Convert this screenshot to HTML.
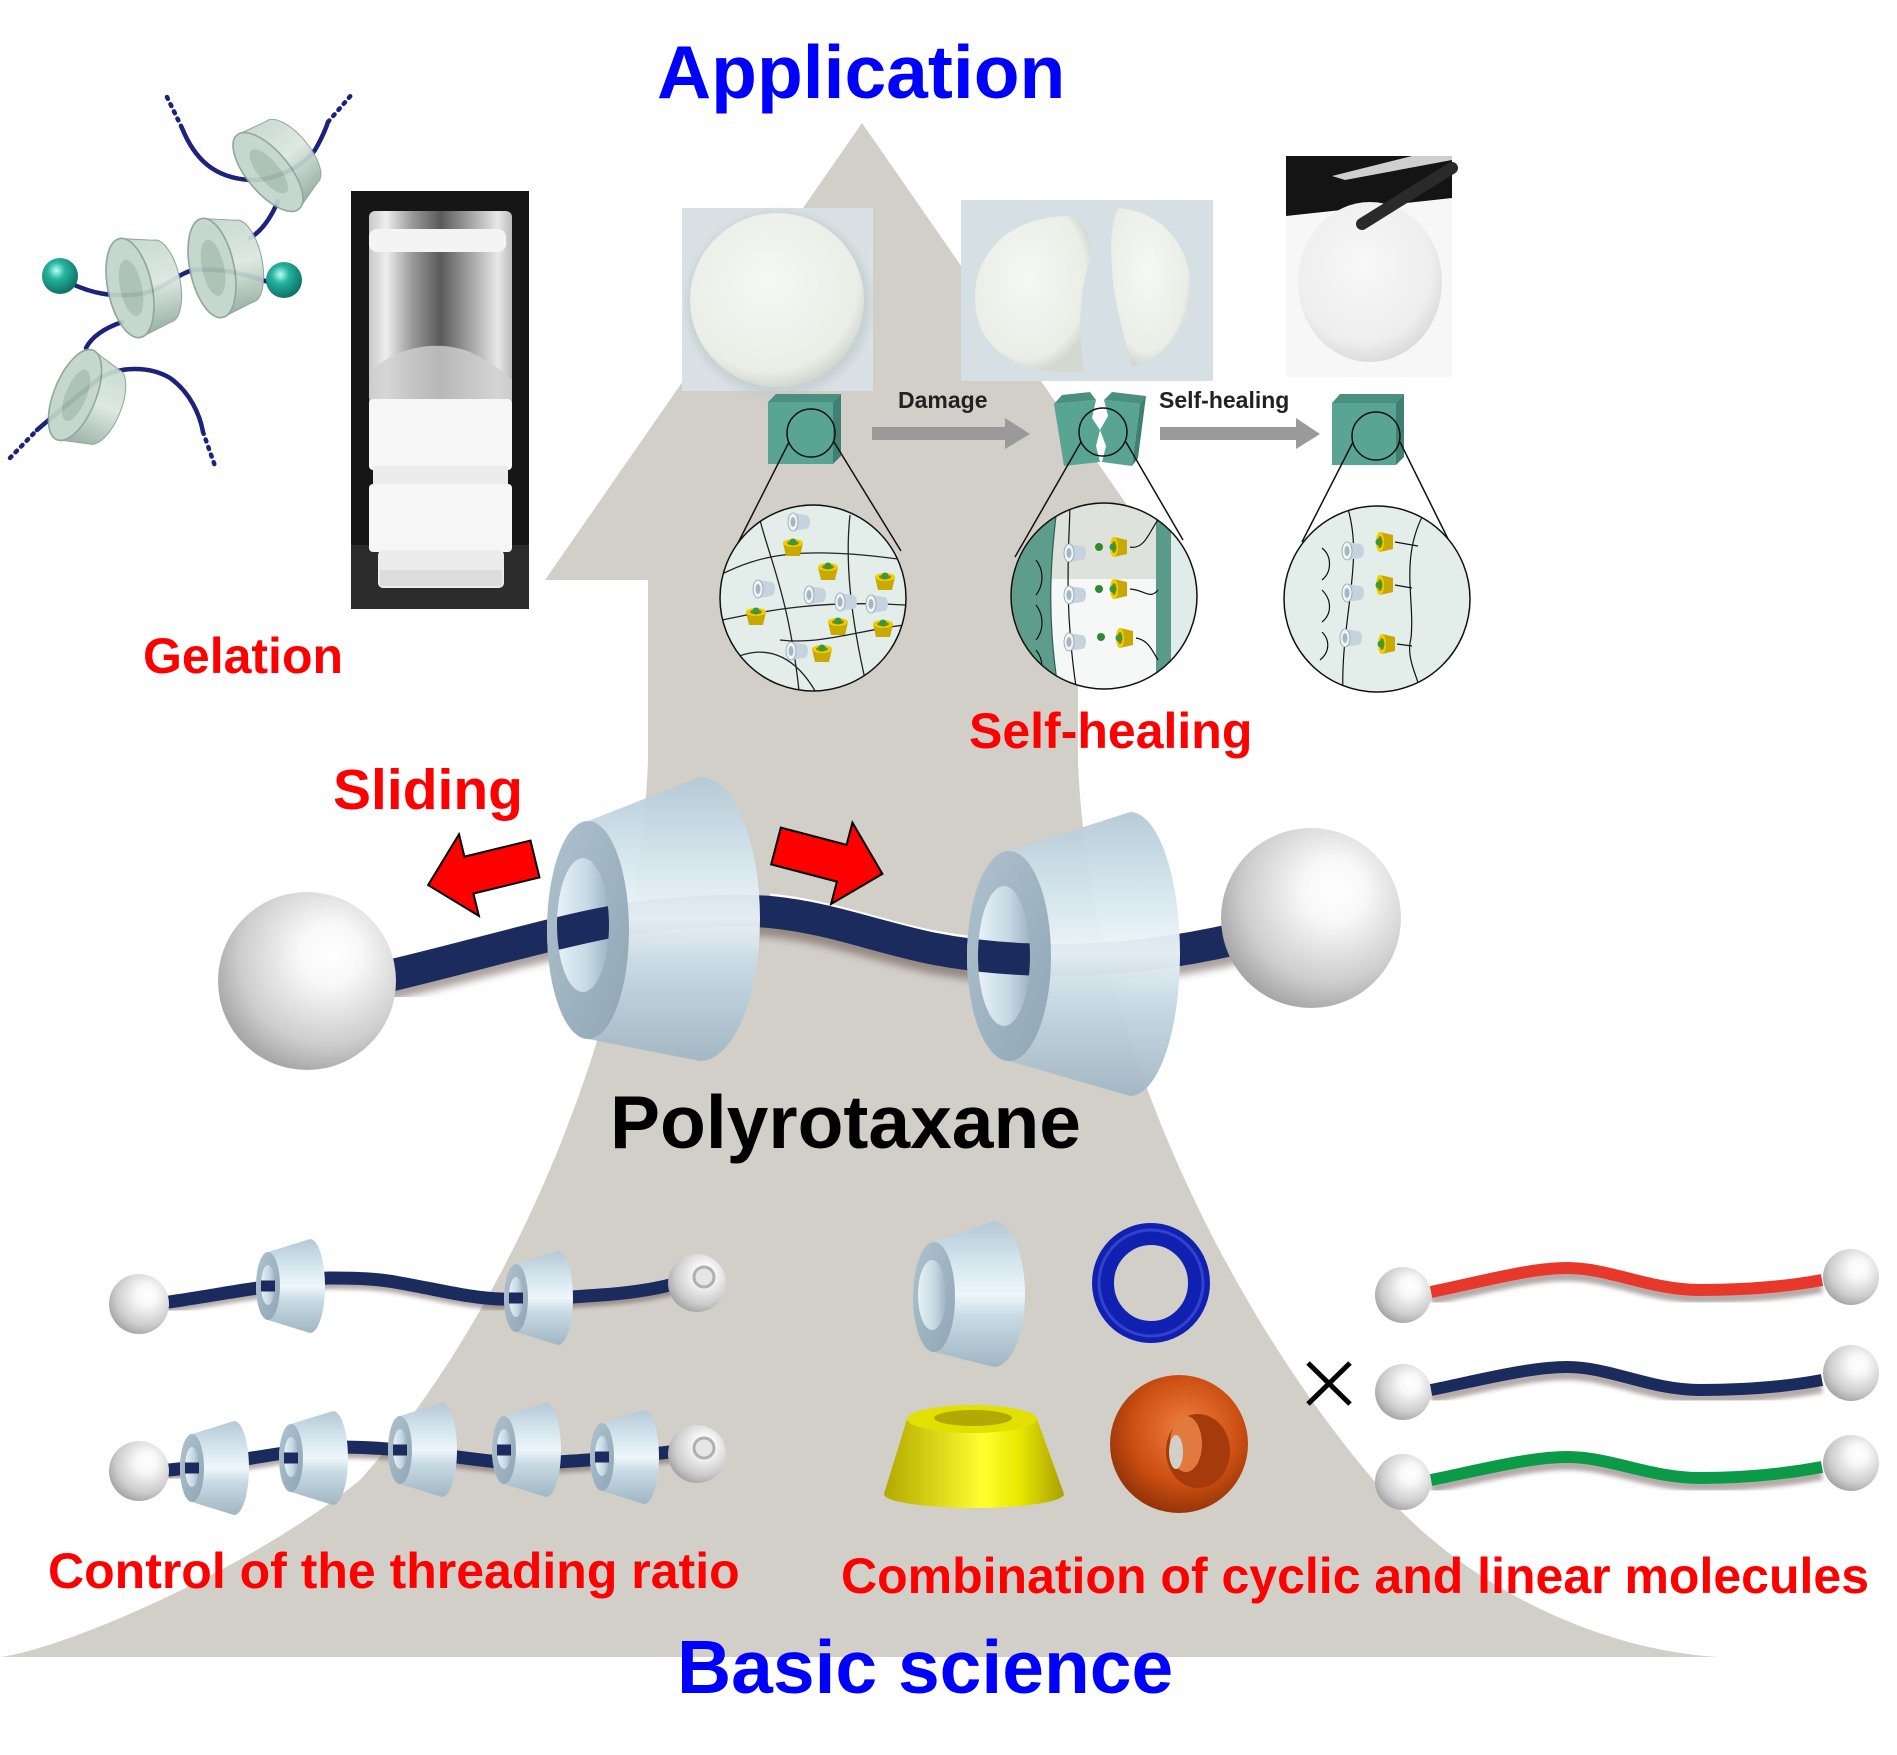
<!DOCTYPE html>
<html><head><meta charset="utf-8"><style>
html,body{margin:0;padding:0;background:#fff;}
svg{display:block;}
text{font-family:"Liberation Sans",Arial,sans-serif;font-weight:bold;}
</style></head><body>
<svg width="1897" height="1755" viewBox="0 0 1897 1755" xmlns="http://www.w3.org/2000/svg">
<defs>
<radialGradient id="sph" cx="0.6" cy="0.38" r="0.7" fx="0.64" fy="0.34">
<stop offset="0" stop-color="#ffffff"/><stop offset="0.25" stop-color="#f8f8f8"/><stop offset="0.7" stop-color="#cdcdcd"/><stop offset="1" stop-color="#9a9a9a"/></radialGradient>
<linearGradient id="rb" x1="0" y1="0" x2="0" y2="1">
<stop offset="0" stop-color="#b4c9d6"/><stop offset="0.3" stop-color="#d6e7ef"/><stop offset="0.5" stop-color="#eef6fa"/><stop offset="0.65" stop-color="#c8dbe5"/><stop offset="1" stop-color="#a1b6c4"/></linearGradient>
<linearGradient id="rf" x1="0" y1="0" x2="1" y2="1">
<stop offset="0" stop-color="#aec2ce"/><stop offset="1" stop-color="#90a6b5"/></linearGradient>
<linearGradient id="rh" x1="0" y1="0" x2="1" y2="0">
<stop offset="0" stop-color="#e8f2f7"/><stop offset="0.6" stop-color="#c4d8e3"/><stop offset="1" stop-color="#9eb4c2"/></linearGradient>
<linearGradient id="gb" x1="0" y1="0" x2="0" y2="1">
<stop offset="0" stop-color="#c4d7cb"/><stop offset="0.5" stop-color="#dbe8e0"/><stop offset="1" stop-color="#8fa99b"/></linearGradient>
<radialGradient id="teal" cx="0.4" cy="0.35" r="0.7">
<stop offset="0" stop-color="#b8fff0"/><stop offset="0.35" stop-color="#25b3a0"/><stop offset="1" stop-color="#0a6a5e"/></radialGradient>
<linearGradient id="yel" x1="0" y1="0" x2="1" y2="0">
<stop offset="0" stop-color="#b2a800"/><stop offset="0.55" stop-color="#ffff30"/><stop offset="0.75" stop-color="#e8e800"/><stop offset="1" stop-color="#a8a000"/></linearGradient>
<radialGradient id="org" cx="0.55" cy="0.4" r="0.65">
<stop offset="0" stop-color="#f08040"/><stop offset="0.6" stop-color="#cc4f12"/><stop offset="1" stop-color="#8a2e06"/></radialGradient>
<linearGradient id="glass" x1="0" y1="0" x2="1" y2="0">
<stop offset="0" stop-color="#c8c8c8"/><stop offset="0.12" stop-color="#eeeeee"/><stop offset="0.3" stop-color="#9a9a9a"/><stop offset="0.5" stop-color="#5a5a5a"/><stop offset="0.7" stop-color="#a0a0a0"/><stop offset="0.9" stop-color="#e8e8e8"/><stop offset="1" stop-color="#bbbbbb"/></linearGradient>
<radialGradient id="gel" cx="0.45" cy="0.4" r="0.6">
<stop offset="0" stop-color="#f6f8f4"/><stop offset="0.85" stop-color="#eaeee6"/><stop offset="1" stop-color="#d3d9d0"/></radialGradient>
<radialGradient id="gel3" cx="0.45" cy="0.4" r="0.6">
<stop offset="0" stop-color="#f8f8f8"/><stop offset="0.8" stop-color="#eeeeee"/><stop offset="1" stop-color="#dcdcdc"/></radialGradient>
<filter id="bl"><feGaussianBlur stdDeviation="4"/></filter>
<filter id="bl2"><feGaussianBlur stdDeviation="2"/></filter>
<clipPath id="c1"><circle cx="813" cy="598" r="93"/></clipPath>
<clipPath id="c2"><circle cx="1104" cy="596" r="93"/></clipPath>
<clipPath id="c3"><circle cx="1377" cy="599" r="93"/></clipPath>
<clipPath id="h1"><ellipse cx="583" cy="925" rx="26" ry="67"/></clipPath>
<clipPath id="h2"><ellipse cx="1004" cy="956" rx="26" ry="70"/></clipPath>
<g id="sr">
<path d="M0 -34 L42 -47 A15 47 0 0 1 42 47 L0 34 A12 34 0 0 1 0 -34 Z" fill="url(#rb)"/>
<ellipse rx="12" ry="34" fill="url(#rf)"/>
<ellipse cx="0" cy="-1" rx="7" ry="20" fill="url(#rh)"/>
<line x1="-7" y1="0" x2="7" y2="0" stroke="#1b2b5e" stroke-width="11"/>
</g>
<g id="gr">
<path d="M0 -46 L30 -38 A16 38 0 0 1 30 38 L0 46 A20 46 0 0 1 0 -46 Z" fill="url(#gb)" stroke="#8aa496" stroke-width="1"/>
<ellipse rx="20" ry="46" fill="#c2d5ca" stroke="#88a294" stroke-width="1.5"/>
<ellipse cx="1" rx="10" ry="26" fill="#a2bbad" opacity="0.85"/>
</g>
<g id="wr">
<path d="M-6 -9 L7 -7 A4 7 0 0 1 7 7 L-6 9 A5 9 0 0 1 -6 -9Z" fill="#c4d3dd"/>
<ellipse cx="-6" rx="5" ry="9" fill="#eef3f6" stroke="#8fa0ac" stroke-width=".8"/>
<ellipse cx="-6" rx="2.5" ry="5" fill="#a6b6c1"/>
</g>
<g id="yc">
<path d="M-10 -4 L10 -4 L7 9 L-7 9Z" fill="#c9a800"/>
<ellipse cy="-4" rx="10" ry="4" fill="#ead000"/>
<ellipse cy="-4" rx="6" ry="2.3" fill="#9a7f00"/>
<circle cy="-5" r="3.5" fill="#3a9a3a"/>
</g>
</defs>
<rect width="1897" height="1755" fill="#fff"/>

<!-- big gray arrow -->
<path d="M862 123 L1179 580 L1078 580 L1078 760 C1088 1050 1250 1350 1403 1513 C1480 1590 1600 1650 1718 1657 L0 1657 C60 1650 250 1570 360 1480 C520 1300 640 1000 648 760 L648 580 L545 580 Z" fill="#d2cfc8"/>

<!-- Gelation molecule -->
<g fill="none" stroke="#1c237a" stroke-width="4.5" stroke-linecap="round">
<path d="M167 97 L182 128" stroke-dasharray="2 6"/>
<path d="M182 128 C195 160 215 178 250 180 C270 181 300 170 315 150 C322 138 326 128 328 122"/>
<path d="M328 122 L353 93" stroke-dasharray="2 6"/>
<path d="M278 201 C270 220 260 232 250 238"/>
<path d="M72 284 C90 292 110 298 140 294 C165 290 178 272 195 270 C215 268 240 272 268 282"/>
<path d="M122 322 C105 328 92 336 86 348"/>
<path d="M10 458 L37 430" stroke-dasharray="2 6"/>
<path d="M37 430 C60 410 85 390 100 378 C120 366 150 366 170 378 C190 392 200 415 203 432"/>
<path d="M203 432 L215 466" stroke-dasharray="2 6"/>
</g>
<g opacity="0.93">
<use href="#gr" transform="translate(268 172) rotate(-40) scale(1.05)"/>
<use href="#gr" transform="translate(212 268) rotate(-12) scale(1.1)"/>
<use href="#gr" transform="translate(130 288) rotate(-12) scale(1.1)"/>
<use href="#gr" transform="translate(75 395) rotate(22) scale(1.05)"/>
</g>
<circle cx="60" cy="276" r="18" fill="url(#teal)"/>
<circle cx="284" cy="280" r="18" fill="url(#teal)"/>

<!-- vial photo -->
<rect x="351" y="191" width="178" height="418" fill="#161616"/>
<rect x="351" y="545" width="178" height="64" fill="#2c2c2c"/>
<rect x="369" y="211" width="143" height="192" rx="6" fill="url(#glass)"/>
<rect x="369" y="229" width="137" height="23" rx="8" fill="#f4f4f4"/>
<path d="M372 370 C400 345 440 340 470 352 C490 362 505 372 512 380 L512 403 L369 403 Z" fill="#d0d0d0" opacity="0.8"/>
<rect x="369" y="399" width="143" height="71" rx="4" fill="#f6f6f6"/>
<rect x="373" y="466" width="135" height="22" fill="#ececec"/>
<rect x="369" y="484" width="143" height="68" rx="4" fill="#f6f6f6"/>
<rect x="378" y="550" width="126" height="38" rx="5" fill="#ececec"/>
<rect x="380" y="570" width="122" height="16" fill="#dcdcdc"/>

<!-- photo 1 -->
<rect x="682" y="208" width="191" height="183" fill="#d9e1e4"/>
<circle cx="779" cy="304" r="92" fill="#bcc6c8" opacity="0.6" filter="url(#bl)"/>
<circle cx="777" cy="300" r="87" fill="url(#gel)"/>
<!-- photo 2 -->
<rect x="961" y="200" width="252" height="181" fill="#d6dfe3"/>
<path d="M1070 216 C1012 216 975 250 975 298 C975 348 1015 376 1084 372 C1080 340 1076 300 1090 260 C1092 240 1088 225 1070 216 Z" fill="url(#gel)"/>
<path d="M1118 208 C1165 212 1192 250 1190 290 C1188 330 1160 362 1132 366 C1122 330 1114 300 1112 270 C1110 240 1112 220 1118 208 Z" fill="url(#gel)"/>
<!-- photo 3 -->
<rect x="1286" y="156" width="166" height="221" fill="#f7f7f7"/>
<path d="M1286 156 H1452 V198 L1286 216 Z" fill="#141414"/>
<path d="M1332 176 L1412 156 L1452 156 L1452 160 L1345 180 Z" fill="#cfcfcf"/>
<ellipse cx="1370" cy="282" rx="72" ry="80" fill="url(#gel3)"/>
<path d="M1452 168 L1362 224" stroke="#2a2a2a" stroke-width="12" stroke-linecap="round"/>

<!-- cubes -->
<g stroke="none">
<polygon points="768,402 776,394 841,394 833,402" fill="#4a8f80"/>
<polygon points="833,402 841,394 841,456 833,464" fill="#3e8072"/>
<rect x="768" y="402" width="65" height="62" fill="#5aa494"/>
<polygon points="1054,404 1062,395 1090,392 1096,400" fill="#4a8f80"/>
<polygon points="1054,404 1096,400 1092,418 1100,430 1096,446 1100,462 1064,466" fill="#5aa494"/>
<polygon points="1104,400 1112,392 1146,396 1140,404" fill="#4a8f80"/>
<polygon points="1104,400 1140,404 1132,466 1102,462 1106,446 1100,430 1108,416" fill="#5aa494"/>
<polygon points="1140,404 1146,396 1138,458 1132,466" fill="#3e8072"/>
<polygon points="1332,403 1340,394 1404,394 1396,403" fill="#4a8f80"/>
<polygon points="1396,403 1404,394 1404,457 1396,465" fill="#3e8072"/>
<rect x="1332" y="403" width="64" height="62" fill="#5aa494"/>
</g>
<g fill="none" stroke="#111" stroke-width="1.5">
<circle cx="811" cy="433" r="24"/><circle cx="1103" cy="432" r="24"/><circle cx="1376" cy="436" r="24"/>
<line x1="789" y1="442" x2="736" y2="547"/><line x1="834" y1="442" x2="901" y2="551"/>
<line x1="1081" y1="442" x2="1015" y2="557"/><line x1="1126" y1="442" x2="1183" y2="540"/>
<line x1="1353" y1="442" x2="1302" y2="542"/><line x1="1400" y1="442" x2="1453" y2="549"/>
</g>

<!-- Damage / Self-healing arrows -->
<polygon points="872,427 1005,427 1005,418 1030,434 1005,449 1005,440 872,440" fill="#9a9a9a"/>
<polygon points="1160,427 1296,427 1296,418 1320,434 1296,449 1296,440 1160,440" fill="#9a9a9a"/>
<text x="898" y="408" font-size="23" fill="#222">Damage</text>
<text x="1159" y="408" font-size="23" fill="#222">Self-healing</text>

<!-- circle 1 -->
<g clip-path="url(#c1)">
<circle cx="813" cy="598" r="93" fill="#e3eeea"/>
<g fill="none" stroke="#222" stroke-width="1.3">
<path d="M720 575 C760 555 800 545 905 560"/>
<path d="M722 620 C770 610 820 600 905 605"/>
<path d="M730 660 C770 640 800 660 820 700"/>
<path d="M760 520 C770 560 790 600 800 700"/>
<path d="M850 515 C845 560 850 620 870 700"/>
<path d="M780 640 C820 645 860 630 905 625"/>
</g>
<use href="#wr" x="799" y="522"/><use href="#wr" x="764" y="589"/><use href="#wr" x="815" y="595"/>
<use href="#wr" x="846" y="602"/><use href="#wr" x="877" y="604"/><use href="#wr" x="797" y="651"/>
<use href="#yc" x="793" y="547"/><use href="#yc" x="828" y="571"/><use href="#yc" x="756" y="616"/>
<use href="#yc" x="885" y="581"/><use href="#yc" x="838" y="626"/><use href="#yc" x="883" y="628"/><use href="#yc" x="822" y="653"/>
</g>
<circle cx="813" cy="598" r="93" fill="none" stroke="#111" stroke-width="1.5"/>
<!-- circle 2 -->
<g clip-path="url(#c2)">
<circle cx="1104" cy="596" r="93" fill="#f6f8f7"/>
<rect x="1050" y="500" width="110" height="79" fill="#dde2dc"/>
<path d="M1000 500 L1058 500 C1050 560 1046 620 1060 700 L1000 700 Z" fill="#5e9d8b" stroke="#2f5f52" stroke-width="1.2"/>
<rect x="1156" y="500" width="15" height="200" fill="#5a9a88"/>
<rect x="1171" y="500" width="40" height="200" fill="#e0ece8"/>
<g fill="none" stroke="#111" stroke-width="1.2">
<path d="M1070 500 C1070 540 1062 600 1078 700"/>
<path d="M1130 547 C1145 550 1150 530 1158 520"/>
<path d="M1130 589 C1145 590 1150 600 1158 590"/>
<path d="M1136 638 C1148 640 1152 650 1158 660"/>
<path d="M1036 560 C1044 570 1044 585 1036 595"/>
<path d="M1036 605 C1044 615 1044 630 1036 640"/>
<path d="M1036 650 C1044 660 1044 672 1034 680"/>
</g>
<use href="#wr" x="1075" y="553"/><use href="#wr" x="1075" y="595"/><use href="#wr" x="1075" y="642"/>
<circle cx="1099" cy="547" r="4" fill="#2f8a2f"/><circle cx="1099" cy="589" r="4" fill="#2f8a2f"/><circle cx="1101" cy="637" r="4" fill="#2f8a2f"/>
<use href="#yc" transform="translate(1118 547) rotate(-90)"/><use href="#yc" transform="translate(1118 589) rotate(-90)"/><use href="#yc" transform="translate(1124 638) rotate(-90)"/>
</g>
<circle cx="1104" cy="596" r="93" fill="none" stroke="#111" stroke-width="1.5"/>
<!-- circle 3 -->
<g clip-path="url(#c3)">
<circle cx="1377" cy="599" r="93" fill="#e3eeea"/>
<g fill="none" stroke="#111" stroke-width="1.2">
<path d="M1347 506 C1365 560 1340 620 1343 695"/>
<path d="M1423 515 C1400 560 1415 600 1411 638 C1405 660 1420 680 1421 695"/>
<path d="M1395 542 L1418 546"/><path d="M1395 585 L1412 588"/><path d="M1397 644 L1412 646"/>
<path d="M1322 548 C1332 556 1332 572 1322 580"/>
<path d="M1322 590 C1332 600 1332 614 1322 622"/>
<path d="M1322 632 C1330 640 1330 652 1320 660"/>
</g>
<use href="#wr" x="1353" y="551"/><use href="#wr" x="1353" y="593"/><use href="#wr" x="1351" y="638"/>
<use href="#yc" transform="translate(1384 542) rotate(-90)"/><use href="#yc" transform="translate(1384 585) rotate(-90)"/><use href="#yc" transform="translate(1386 644) rotate(-90)"/>
</g>
<circle cx="1377" cy="599" r="93" fill="none" stroke="#111" stroke-width="1.5"/>

<!-- labels -->
<text x="657" y="98" font-size="75" fill="#0000ff">Application</text>
<text x="143" y="673" font-size="50" fill="#ff0000">Gelation</text>
<text x="969" y="748" font-size="50" fill="#ff0000">Self-healing</text>
<text x="333" y="809" font-size="57" fill="#ff0000">Sliding</text>

<!-- big polyrotaxane chain -->
<path d="M380 990 C450 974 540 948 600 936 C650 926 720 920 770 924 C830 930 870 947 930 960 C970 968 1010 972 1060 972 C1120 972 1180 964 1240 950" fill="none" stroke="#5a4540" stroke-width="26" opacity="0.5" filter="url(#bl)"/>
<path d="M770 896 C830 902 870 919 930 932 C970 940 1010 944 1060 944" fill="none" stroke="#fff" stroke-width="5"/>
<path id="bigchain" d="M380 978 C450 962 540 936 600 924 C650 914 720 908 770 912 C830 918 870 935 930 948 C970 956 1010 960 1060 960 C1120 960 1180 952 1240 938" fill="none" stroke="#1b2b5e" stroke-width="32"/>
<circle cx="307" cy="981" r="89" fill="url(#sph)"/>
<circle cx="1311" cy="918" r="90" fill="url(#sph)"/>
<!-- ring 1 -->
<path d="M588 821 L700 777 A60 142 0 0 1 700 1061 L588 1039 A41 109 0 0 1 588 821 Z" fill="url(#rb)" opacity="0.95"/>
<ellipse cx="588" cy="930" rx="41" ry="109" fill="url(#rf)"/>
<ellipse cx="583" cy="925" rx="26" ry="67" fill="url(#rh)"/>
<g clip-path="url(#h1)"><use href="#bigchain"/></g>
<!-- ring 2 -->
<path d="M1009 851 L1130 812 A50 142 0 0 1 1130 1096 L1009 1061 A42 105 0 0 1 1009 851 Z" fill="url(#rb)" opacity="0.95"/>
<ellipse cx="1009" cy="956" rx="42" ry="105" fill="url(#rf)"/>
<ellipse cx="1004" cy="956" rx="26" ry="70" fill="url(#rh)"/>
<g clip-path="url(#h2)"><use href="#bigchain"/></g>
<!-- red arrows -->
<polygon points="0,-19 68,-19 68,-42 110,0 68,42 68,19 0,19" fill="#ff0000" stroke="#000" stroke-width="2" transform="translate(535 859) rotate(166.3)"/>
<polygon points="0,-19 68,-19 68,-42 110,0 68,42 68,19 0,19" fill="#ff0000" stroke="#000" stroke-width="2" transform="translate(776 846) rotate(14.7)"/>

<text x="610" y="1148" font-size="75" fill="#000">Polyrotaxane</text>

<!-- threading rows -->
<g fill="none" stroke-linecap="round">
<path d="M169 1302 C210 1296 240 1290 266 1287 C290 1284 310 1278 330 1278 C360 1278 380 1279 400 1283 C440 1290 470 1298 500 1299 C540 1300 570 1297 600 1295 C630 1293 650 1290 670 1285" stroke="#5a4540" stroke-width="10" opacity="0.45" filter="url(#bl2)" transform="translate(0 6)"/>
<path d="M169 1302 C210 1296 240 1290 266 1287 C290 1284 310 1278 330 1278 C360 1278 380 1279 400 1283 C440 1290 470 1298 500 1299 C540 1300 570 1297 600 1295 C630 1293 650 1290 670 1285" stroke="#1b2b5e" stroke-width="13"/>
<path d="M169 1470 C200 1467 250 1458 290 1452 C320 1447 345 1445 400 1450 C440 1454 480 1461 520 1464 C560 1462 600 1460 670 1452" stroke="#5a4540" stroke-width="10" opacity="0.45" filter="url(#bl2)" transform="translate(0 6)"/>
<path d="M169 1470 C200 1467 250 1458 290 1452 C320 1447 345 1445 400 1450 C440 1454 480 1461 520 1464 C560 1462 600 1460 670 1452" stroke="#1b2b5e" stroke-width="13"/>
</g>
<use href="#sr" x="268" y="1286"/><use href="#sr" x="516" y="1298"/>
<use href="#sr" x="192" y="1468"/><use href="#sr" x="291" y="1458"/><use href="#sr" x="400" y="1450"/><use href="#sr" x="504" y="1450"/><use href="#sr" x="602" y="1457"/>
<circle cx="139" cy="1304" r="30" fill="url(#sph)"/>
<circle cx="139" cy="1471" r="30" fill="url(#sph)"/>
<circle cx="697" cy="1283" r="29" fill="url(#sph)"/>
<circle cx="704" cy="1277" r="10" fill="#e6e6e6" stroke="#b0b0b0" stroke-width="3"/>
<circle cx="697" cy="1454" r="29" fill="url(#sph)"/>
<circle cx="704" cy="1448" r="10" fill="#e6e6e6" stroke="#b0b0b0" stroke-width="3"/>

<!-- center molecules -->
<path d="M934 1242 L994 1221 A31 73 0 0 1 994 1367 L934 1352 A21 55 0 0 1 934 1242 Z" fill="url(#rb)"/>
<ellipse cx="934" cy="1297" rx="21" ry="55" fill="url(#rf)"/>
<ellipse cx="932" cy="1295" rx="14" ry="35" fill="url(#rh)"/>
<ellipse cx="1151" cy="1283" rx="48" ry="49" fill="none" stroke="#1020b0" stroke-width="22"/>
<ellipse cx="1151" cy="1283" rx="52" ry="53" fill="none" stroke="#4a5ae0" stroke-width="3" opacity="0.6"/>
<path d="M907 1419 L884 1494 A90 14 0 0 0 1064 1494 L1037 1419 Z" fill="url(#yel)"/>
<ellipse cx="972" cy="1419" rx="65" ry="14" fill="#e2e000"/>
<ellipse cx="973" cy="1418" rx="39" ry="8" fill="#b2aa00"/>
<circle cx="1179" cy="1444" r="69" fill="url(#org)"/>
<ellipse cx="1198" cy="1451" rx="32" ry="37" fill="#a53a0a"/>
<ellipse cx="1186" cy="1444" rx="16" ry="28" fill="#e27a40"/>
<ellipse cx="1176" cy="1452" rx="7" ry="17" fill="#d2cfc8"/>
<g stroke="#000" stroke-width="5"><line x1="1308" y1="1363" x2="1350" y2="1404"/><line x1="1350" y1="1363" x2="1308" y2="1404"/></g>

<!-- right dumbbells -->
<g fill="none">
<path d="M1431 1300 C1480 1290 1530 1276 1567 1276 C1610 1276 1650 1298 1700 1298 C1750 1298 1790 1294 1822 1288" stroke="#5a4540" stroke-width="10" opacity="0.45" filter="url(#bl2)"/>
<path d="M1431 1292 C1480 1282 1530 1268 1567 1268 C1610 1268 1650 1290 1700 1290 C1750 1290 1790 1286 1822 1280" stroke="#e8382c" stroke-width="12"/>
<path d="M1431 1398 C1480 1388 1530 1375 1567 1375 C1610 1375 1650 1398 1700 1398 C1750 1398 1790 1394 1822 1388" stroke="#5a4540" stroke-width="10" opacity="0.45" filter="url(#bl2)"/>
<path d="M1431 1390 C1480 1380 1530 1367 1567 1367 C1610 1367 1650 1390 1700 1390 C1750 1390 1790 1386 1822 1380" stroke="#1b2b5e" stroke-width="12"/>
<path d="M1431 1488 C1480 1478 1530 1465 1567 1465 C1610 1465 1650 1486 1700 1486 C1750 1486 1790 1481 1822 1475" stroke="#5a4540" stroke-width="10" opacity="0.45" filter="url(#bl2)"/>
<path d="M1431 1480 C1480 1470 1530 1457 1567 1457 C1610 1457 1650 1478 1700 1478 C1750 1478 1790 1473 1822 1467" stroke="#0a9a48" stroke-width="12"/>
</g>
<circle cx="1403" cy="1295" r="28" fill="url(#sph)"/><circle cx="1851" cy="1277" r="28" fill="url(#sph)"/>
<circle cx="1403" cy="1392" r="28" fill="url(#sph)"/><circle cx="1851" cy="1373" r="28" fill="url(#sph)"/>
<circle cx="1403" cy="1482" r="28" fill="url(#sph)"/><circle cx="1851" cy="1463" r="28" fill="url(#sph)"/>

<text x="48" y="1588" font-size="50" fill="#ff0000">Control of the threading ratio</text>
<text x="841" y="1593" font-size="50" fill="#ff0000">Combination of cyclic and linear molecules</text>
<text x="677" y="1693" font-size="75" fill="#0000ff">Basic science</text>
</svg>
</body></html>
